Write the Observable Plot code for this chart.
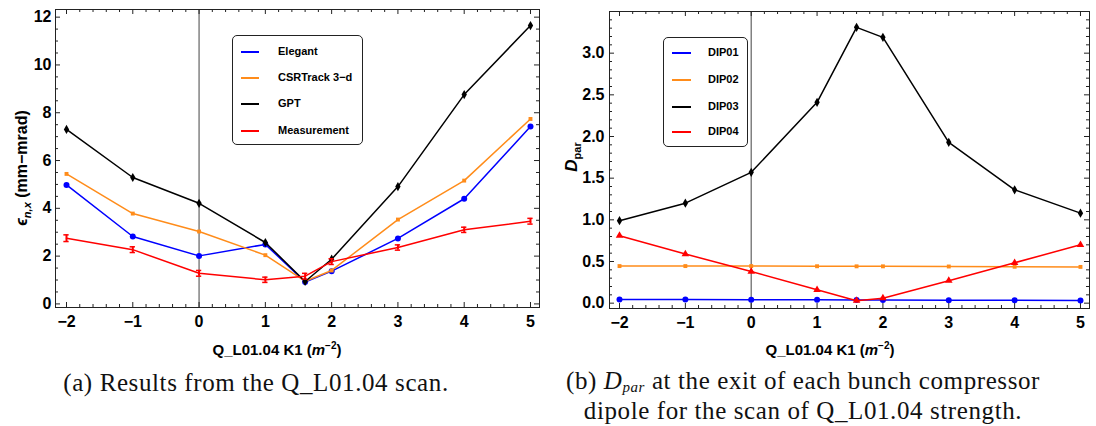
<!DOCTYPE html>
<html>
<head>
<meta charset="utf-8">
<script src="https://cdn.jsdelivr.net/npm/d3@7"></script>
<script src="https://cdn.jsdelivr.net/npm/@observablehq/plot@0.6"></script>
<style>
  html, body { margin: 0; padding: 0; background: #fff; }
  #root { position: relative; width: 1096px; height: 426px; overflow: hidden; font-family: "Liberation Sans", Arial, sans-serif; }
  .panel { position: absolute; top: 0; }
  .lbl { position: absolute; font-weight: bold; font-size: 15px; white-space: nowrap; color: #000; }
  .legend { position: absolute; border: 1px solid #222; border-radius: 5px; background: #fff; box-sizing: border-box; }
  .legend .row { position: absolute; font-weight: bold; font-size: 11px; white-space: nowrap; }
  .legend .sw { position: absolute; height: 0; border-top: 2px solid; }
  .cap { position: absolute; font-family: "Liberation Serif", "Times New Roman", serif; font-size: 25px; letter-spacing: 0.6px; white-space: nowrap; color: #111; transform: translate(-50%, -50%); line-height: 1; }
  sub, sup { line-height: 0; }
</style>
</head>
<body>
<div id="root"></div>
<script>
// ---------- data ----------
const xs = [-2, -1, 0, 1, 1.6, 2, 3, 4, 5];

// panel (a): emittance (mm-mrad)
const elegant     = [4.98, 2.82, 2.01, 2.49, 0.92, 1.37, 2.74, 4.40, 7.42];
const csrtrack    = [5.44, 3.78, 3.03, 2.04, 0.95, 1.40, 3.53, 5.16, 7.74];
const gpt         = [7.30, 5.29, 4.21, 2.57, 0.94, 1.87, 4.91, 8.76, 11.65];
const measurement = [2.75, 2.27, 1.28, 1.01, 1.16, 1.77, 2.36, 3.10, 3.46];
const measErr     = [0.14, 0.12, 0.12, 0.11, 0.12, 0.12, 0.11, 0.11, 0.12];

// panel (b): D_par at exit of each dipole
const dip01 = [0.045, 0.043, 0.042, 0.040, 0.038, 0.037, 0.035, 0.034, 0.033];
const dip02 = [0.445, 0.445, 0.445, 0.443, 0.442, 0.442, 0.440, 0.437, 0.435];
const dip03 = [0.99, 1.20, 1.57, 2.41, 3.31, 3.19, 1.93, 1.36, 1.08];
const dip04 = [0.81, 0.59, 0.38, 0.16, 0.03, 0.06, 0.27, 0.485, 0.70];

const namesA = ["Elegant", "CSRTrack 3\u2212d", "GPT", "Measurement"];
const namesB = ["DIP01", "DIP02", "DIP03", "DIP04"];
const colors = ["#0000ff", "#ff8c1a", "#000000", "#ff0000"];

const xTicks = [-2, -1, 0, 1, 2, 3, 4, 5];
const yTicksA = [0, 2, 4, 6, 8, 10, 12];
const yTicksB = [0, 0.5, 1, 1.5, 2, 2.5, 3];

// ---------- helpers ----------
const rows = (ys) => xs.map((x, i) => ({x, y: ys[i]}));
const minors = (lo, hi, step, majors) =>
  d3.range(Math.round((hi - lo) / step) + 1).map(i => +(lo + i * step).toFixed(4))
    .filter(v => !majors.some(m => Math.abs(m - v) < 1e-6));

function frameTicks(xMaj, xMin, yMaj, yMin, iw, ih) {
  const big = 5, small = 3, st = "#222";
  return [
    Plot.tickX(xMaj, {x: d => d, insetTop: ih - big, stroke: st}),
    Plot.tickX(xMaj, {x: d => d, insetBottom: ih - big, stroke: st}),
    Plot.tickX(xMin, {x: d => d, insetTop: ih - small, stroke: st}),
    Plot.tickX(xMin, {x: d => d, insetBottom: ih - small, stroke: st}),
    Plot.tickY(yMaj, {y: d => d, insetRight: iw - big, stroke: st}),
    Plot.tickY(yMaj, {y: d => d, insetLeft: iw - big, stroke: st}),
    Plot.tickY(yMin, {y: d => d, insetRight: iw - small, stroke: st}),
    Plot.tickY(yMin, {y: d => d, insetLeft: iw - small, stroke: st})
  ];
}

const baseStyle = {fontFamily: "'Liberation Sans', Arial, sans-serif", fontSize: "16px", fontWeight: "bold", background: "transparent", overflow: "visible", color: "#000"};

// ---------- panel (a) ----------
const A = {w: 548, h: 360, ml: 55, mr: 9, mt: 9, mb: 53};
const xDomA = [-2.166, 5.136], yDomA = [-0.15, 12.32];
const meas = rows(measurement).map((d, i) => ({...d, e: measErr[i]}));
const plotA = Plot.plot({
  width: A.w, height: A.h,
  marginLeft: A.ml, marginRight: A.mr, marginTop: A.mt, marginBottom: A.mb,
  style: baseStyle,
  x: {domain: xDomA},
  y: {domain: yDomA},
  marks: [
    Plot.ruleX([0], {stroke: "#6e6e6e", strokeWidth: 1.3}),
    Plot.frame({stroke: "#222"}),
    ...frameTicks(xTicks, minors(-2, 5, 0.2, xTicks), yTicksA, minors(0, 12, 0.5, yTicksA),
                  A.w - A.ml - A.mr, A.h - A.mt - A.mb),
    Plot.axisX({ticks: xTicks, tickSize: 0, tickPadding: 8, label: null, fontWeight: "bold", fontSize: 16}),
    Plot.axisY({ticks: yTicksA, tickSize: 0, tickPadding: 4, label: null, fontWeight: "bold", fontSize: 16}),
    Plot.line(rows(elegant), {x: "x", y: "y", stroke: colors[0], strokeWidth: 1.5}),
    Plot.dot(rows(elegant), {x: "x", y: "y", fill: colors[0], r: 3}),
    Plot.line(rows(csrtrack), {x: "x", y: "y", stroke: colors[1], strokeWidth: 1.5}),
    Plot.dot(rows(csrtrack), {x: "x", y: "y", fill: colors[1], symbol: "square", r: 2.2}),
    Plot.line(rows(gpt), {x: "x", y: "y", stroke: colors[2], strokeWidth: 1.5}),
    Plot.dot(rows(gpt), {x: "x", y: "y", fill: colors[2], symbol: "diamond", r: 2.8}),
    Plot.line(meas, {x: "x", y: "y", stroke: colors[3], strokeWidth: 1.5}),
    Plot.ruleX(meas, {x: "x", y1: d => d.y - d.e, y2: d => d.y + d.e, stroke: colors[3], strokeWidth: 2}),
    Plot.ruleY(meas, {y: d => d.y - d.e, x1: d => d.x - 0.04, x2: d => d.x + 0.04, stroke: colors[3], strokeWidth: 1.5}),
    Plot.ruleY(meas, {y: d => d.y + d.e, x1: d => d.x - 0.04, x2: d => d.x + 0.04, stroke: colors[3], strokeWidth: 1.5})
  ]
});

// ---------- panel (b) ----------
const B = {w: 548, h: 360, ml: 61, mr: 7, mt: 11, mb: 52};
const xDomB = [-2.152, 5.137], yDomB = [-0.064, 3.5];
const plotB = Plot.plot({
  width: B.w, height: B.h,
  marginLeft: B.ml, marginRight: B.mr, marginTop: B.mt, marginBottom: B.mb,
  style: baseStyle,
  x: {domain: xDomB},
  y: {domain: yDomB},
  marks: [
    Plot.ruleX([0], {stroke: "#6e6e6e", strokeWidth: 1.3}),
    Plot.frame({stroke: "#222"}),
    ...frameTicks(xTicks, minors(-2, 5, 0.2, xTicks), yTicksB, minors(0, 3.4, 0.1, yTicksB),
                  B.w - B.ml - B.mr, B.h - B.mt - B.mb),
    Plot.axisX({ticks: xTicks, tickSize: 0, tickPadding: 8, label: null, fontWeight: "bold", fontSize: 16}),
    Plot.axisY({ticks: yTicksB, tickSize: 0, tickPadding: 5, label: null, tickFormat: d3.format(".1f"), fontWeight: "bold", fontSize: 16}),
    Plot.line(rows(dip01), {x: "x", y: "y", stroke: colors[0], strokeWidth: 1.5}),
    Plot.dot(rows(dip01), {x: "x", y: "y", fill: colors[0], r: 3}),
    Plot.line(rows(dip02), {x: "x", y: "y", stroke: colors[1], strokeWidth: 1.5}),
    Plot.dot(rows(dip02), {x: "x", y: "y", fill: colors[1], symbol: "square", r: 2.2}),
    Plot.line(rows(dip03), {x: "x", y: "y", stroke: colors[2], strokeWidth: 1.5}),
    Plot.dot(rows(dip03), {x: "x", y: "y", fill: colors[2], symbol: "diamond", r: 2.8}),
    Plot.line(rows(dip04), {x: "x", y: "y", stroke: colors[3], strokeWidth: 1.5}),
    Plot.dot(rows(dip04), {x: "x", y: "y", fill: colors[3], symbol: "triangle", r: 2.8})
  ]
});

// ---------- assemble ----------
const root = document.getElementById("root");
function place(el, left) { el.classList.add("panel"); el.style.left = left + "px"; root.appendChild(el); }
place(plotA, 0);
place(plotB, 548);

function html(tag, cls, styles, inner) {
  const el = document.createElement(tag);
  if (cls) el.className = cls;
  Object.assign(el.style, styles);
  el.innerHTML = inner;
  root.appendChild(el);
  return el;
}

// axis titles
const xTitle = "Q_L01.04 K1 (<i>m</i><sup style=\"font-size:10px\">\u22122</sup>)";
html("div", "lbl", {left: "277px", top: "349px", transform: "translate(-50%,-50%)"}, xTitle);
html("div", "lbl", {left: "830px", top: "349px", transform: "translate(-50%,-50%)"}, xTitle);
html("div", "lbl", {left: "22px", top: "168px", transform: "translate(-50%,-50%) rotate(-90deg)", fontSize: "16px"},
  "<i>\u03f5</i><sub style=\"font-size:11px\"><i>n,x</i></sub> (mm\u2212mrad)");
html("div", "lbl", {left: "572px", top: "157px", transform: "translate(-50%,-50%) rotate(-90deg)", fontSize: "17px"},
  "<i>D</i><sub style=\"font-size:11px;font-style:normal\">par</sub>");

// legends
function legend(box, names, lineX, textX, rowY) {
  const lg = html("div", "legend", {left: box.x + "px", top: box.y + "px", width: box.w + "px", height: box.h + "px"}, "");
  names.forEach((n, i) => {
    const sw = document.createElement("div");
    sw.className = "sw";
    Object.assign(sw.style, {left: (lineX[0] - box.x - 1) + "px", width: (lineX[1] - lineX[0]) + "px",
      top: (rowY[i] - box.y - 2) + "px", borderTopColor: colors[i]});
    lg.appendChild(sw);
    const r = document.createElement("div");
    r.className = "row";
    Object.assign(r.style, {left: (textX - box.x - 1) + "px", top: (rowY[i] - box.y - 8) + "px"});
    r.textContent = n;
    lg.appendChild(r);
  });
}
legend({x: 232, y: 35, w: 131, h: 110}, namesA, [241, 259], 278, [52, 78, 104, 131]);
legend({x: 663, y: 37, w: 85, h: 110}, namesB, [672, 691], 708, [53, 80, 107, 132]);

// captions
html("div", "cap", {left: "256px", top: "382px"}, "(a) Results from the Q_L01.04 scan.");
html("div", "cap", {left: "803px", top: "380px"}, "(b) <i>D<span style=\"font-size:15px;vertical-align:-0.2em;line-height:0\">par</span></i> at the exit of each bunch compressor");
html("div", "cap", {left: "803px", top: "410px"}, "dipole for the scan of Q_L01.04 strength.");
</script>
</body>
</html>
